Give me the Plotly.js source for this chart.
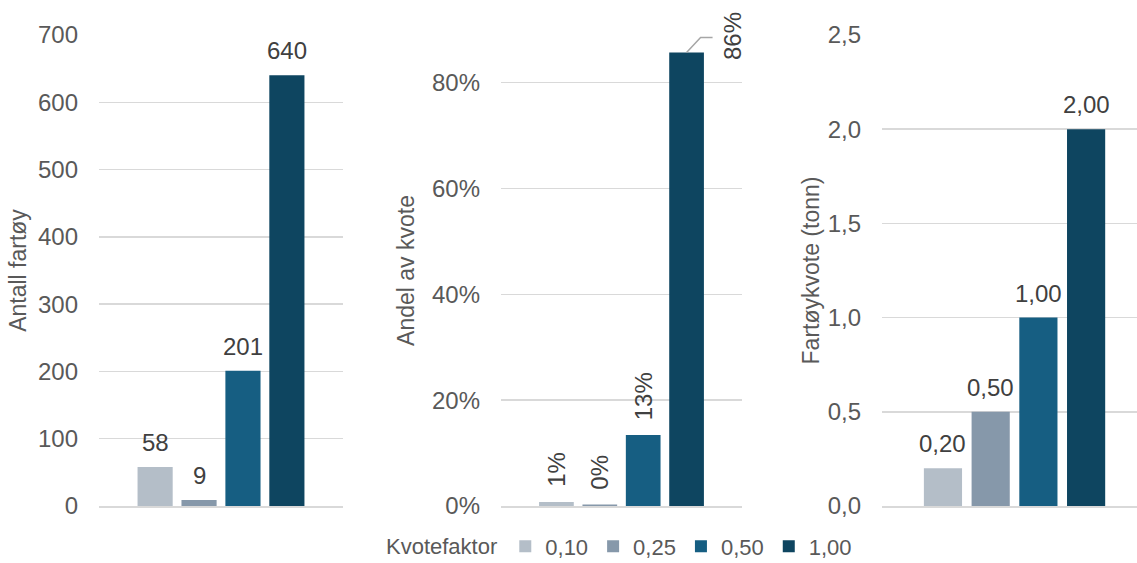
<!DOCTYPE html>
<html>
<head>
<meta charset="utf-8">
<script src="https://cdn.plot.ly/plotly-3.0.1.min.js"></script>
<style>
  html, body { margin: 0; padding: 0; background: #fff; }
  #chart { width: 1137px; height: 563px; }
</style>
</head>
<body>
<div id="chart"></div>
<script>
// Kvotefaktor groups and their colours
const kvotefaktor = ["0,10", "0,25", "0,50", "1,00"];
const colors = ["#b4bec8", "#8698aa", "#165e82", "#0e4560"];

// Panel values per kvotefaktor group
const antallFartoy = [58, 9, 201, 640];
const andelKvote = [0.0077, 0.003, 0.134, 0.857];
const fartoyKvote = [0.2, 0.5, 1.0, 2.0];

// Axis titles
const yTitles = ["Antall fartøy", "Andel av kvote", "Fartøykvote (tonn)"];

const FONT = "Liberation Sans, Arial, sans-serif";
const TICK_FS = 24;
const LABEL_FS = 24;
const TITLE_FS = 23;
const LEGEND_FS = 22;
const TICK_COLOR = "#595959";
const LABEL_COLOR = "#404040";
const GRID = "#d9d9d9";

const BARGAP = 0.28;
const BARGROUPGAP = 0.2;
const slot = (1 - BARGAP) / kvotefaktor.length;
// centre of the i-th bar inside the group at x = 0
const barCenter = i => (i - (kvotefaktor.length - 1) / 2) * slot;

const panels = [
  { values: antallFartoy, fmt: v => String(v) },
  { values: andelKvote, fmt: v => Math.round(v * 100) + "%" },
  { values: fartoyKvote, fmt: v => v.toFixed(2).replace(".", ",") }
];

const traces = [];
panels.forEach((p, pi) => {
  const sfx = pi === 0 ? "" : String(pi + 1);
  kvotefaktor.forEach((k, i) => {
    traces.push({
      type: "bar",
      name: k,
      x: [0],
      y: [p.values[i]],
      xaxis: "x" + sfx,
      yaxis: "y" + sfx,
      marker: { color: colors[i], line: { width: 0 } },
      showlegend: pi === 0,
      legendgroup: k,
      hoverinfo: "skip"
    });
  });
});

const annotations = [];
// value labels above the bars
panels.forEach((p, pi) => {
  const sfx = pi === 0 ? "" : String(pi + 1);
  p.values.forEach((v, i) => {
    const base = {
      x: barCenter(i), y: v, xref: "x" + sfx, yref: "y" + sfx,
      text: p.fmt(v), showarrow: false,
      font: { family: FONT, size: LABEL_FS, color: LABEL_COLOR }
    };
    if (pi === 1) {
      base.textangle = -90;
      if (i === p.values.length - 1) {
        // top label sits beside the bar with a leader line
        Object.assign(base, { xanchor: "center", yanchor: "middle", xshift: 46, yshift: 16 });
      } else {
        Object.assign(base, { xanchor: "center", yanchor: "bottom", yshift: 13 });
      }
    } else {
      Object.assign(base, { xanchor: "center", yanchor: "bottom", yshift: 9 });
    }
    annotations.push(base);
  });
});

const last = andelKvote.length - 1;
const shapes = [{
  type: "path",
  xref: "x2", yref: "y2",
  xsizemode: "pixel", ysizemode: "pixel",
  xanchor: barCenter(last), yanchor: andelKvote[last],
  path: "M0,0L14,15L26,15",
  line: { color: "#a6a6a6", width: 1.5 }
}];

const W = 1137, H = 563;
const yDom = [(H - 506) / H, (H - 35) / H];

function yAxis(extra) {
  return Object.assign({
    domain: yDom,
    showgrid: true, gridcolor: GRID, gridwidth: 1.5,
    zeroline: false, showline: false, ticks: "",
    ticklabelstandoff: 20,
    tickfont: { family: FONT, size: TICK_FS, color: TICK_COLOR },
    fixedrange: true
  }, extra);
}
function xAxis(extra) {
  return Object.assign({
    showgrid: false, zeroline: false, showticklabels: false,
    showline: true, linecolor: GRID, linewidth: 1.5,
    fixedrange: true
  }, extra);
}
function yTitle(text, standoff) {
  return { text: text, standoff: standoff, font: { family: FONT, size: TITLE_FS, color: TICK_COLOR } };
}

const layout = {
  width: W, height: H,
  margin: { l: 0, r: 0, t: 0, b: 0, autoexpand: false },
  paper_bgcolor: "#ffffff", plot_bgcolor: "#ffffff",
  separators: ", ",
  barmode: "group",
  bargap: BARGAP, bargroupgap: BARGROUPGAP,
  font: { family: FONT, size: TICK_FS, color: TICK_COLOR },
  xaxis: xAxis({ domain: [99 / W, 343 / W], range: [-0.5, 0.5], anchor: "y" }),
  xaxis2: xAxis({ domain: [501 / W, 742 / W], range: [-0.5, 0.5], anchor: "y2" }),
  xaxis3: xAxis({ domain: [882 / W, 1], range: [-0.5, 0.462], anchor: "y3" }),
  yaxis: yAxis({ anchor: "x", range: [0, 700], dtick: 100, title: yTitle(yTitles[0], 4) }),
  yaxis2: yAxis({ anchor: "x2", range: [0, 0.89], dtick: 0.2, tickformat: ".0%", title: yTitle(yTitles[1], 10) }),
  yaxis3: yAxis({ anchor: "x3", range: [0, 2.5], dtick: 0.5, tickformat: ".1f", title: yTitle(yTitles[2], 1) }),
  legend: {
    orientation: "h",
    x: 384 / W, xanchor: "left",
    y: -0.008, yanchor: "bottom",
    title: { text: "Kvotefaktor", side: "left", font: { family: FONT, size: LEGEND_FS, color: TICK_COLOR } },
    font: { family: FONT, size: LEGEND_FS, color: TICK_COLOR },
    itemwidth: 30,
    traceorder: "normal",
    bgcolor: "rgba(0,0,0,0)"
  },
  annotations: annotations,
  shapes: shapes,
  showlegend: true
};

Plotly.newPlot("chart", traces, layout, { staticPlot: true, displayModeBar: false });
</script>
</body>
</html>
